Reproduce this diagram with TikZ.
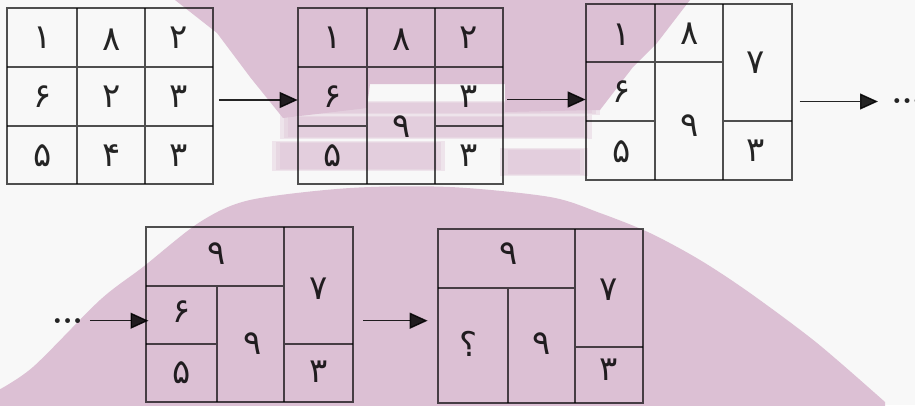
\documentclass[tikz,border=0pt]{standalone}
\usepackage{fontspec}
\usetikzlibrary{arrows.meta}
\TeXXeTstate=1
\newfontfamily\arabicfont[Script=Arabic]{DejaVu Sans}
\definecolor{wm}{HTML}{DCC0D4}
\definecolor{bgc}{HTML}{F8F8F8}
\newcommand\pd[1]{\beginR #1\endR}
\begin{document}
\begin{tikzpicture}[x=1pt,y=-1pt,
  gridline/.style={draw=black,draw opacity=0.68,line width=1.9pt},
  frame/.style={draw=black,draw opacity=0.68,line width=1.9pt,inner sep=0pt,outer sep=0pt},
  lbl/.style={inner sep=0pt,font=\arabicfont\fontsize{34}{34}\selectfont,text=black,text opacity=0.85},
  dotsnode/.style={inner sep=0pt,font=\bfseries\fontsize{34}{34}\selectfont,text=black,text opacity=0.85},
  arr/.style={line width=1.4pt,draw=black,draw opacity=0.85,fill opacity=0.85,-{Triangle[length=18pt,width=16pt]}},
  streak/.style={fill=wm,opacity=0.35}]
\useasboundingbox (0,0) rectangle (915,405);
\fill[bgc] (0,0) rectangle (915,405);
% watermark
\fill[wm] (175,0) -- (690,0) -- (657,43) -- (633,67) -- (600,110) -- (505,112) -- (505,84) -- (370,84) -- (367,108) -- (283,118) -- (250,77) -- (217,33) -- cycle;
\foreach \d in {0,4,8} {
  \fill[streak] (300+\d,101+\d/4) rectangle (600-\d,115-\d/4);
  \fill[streak] (280+\d,115+\d/4) rectangle (592-\d,139-\d/4);
  \fill[streak] (272+\d,141+\d/4) rectangle (445-\d,171-\d/4);
  \fill[streak] (500+\d,148+\d/4) rectangle (588-\d,176-\d/4);
}
\fill[wm] plot[smooth] coordinates {(-5,392) (33,367) (100,300) (143,267) (200,222) (250,200) (350,188) (450,187) (550,197) (600,213) (650,233) (700,260) (750,293) (817,343) (885,402)} -- (885,410) -- (-5,410) -- cycle;

% grid 1
\node[frame,minimum width=205.7pt,minimum height=175.7pt] (g1) at (110.15,96.15) {};
\draw[gridline] (77.3,8.3) -- (77.3,184) (145,8.3) -- (145,184) (7.3,66.7) -- (213,66.7) (7.3,126) -- (213,126);
\node[lbl] (c11) at (42.3,37.5) {\pd{۱}};
\node[lbl] (c12) at (111.2,40) {\pd{۸}};
\node[lbl] (c13) at (179,38) {\pd{۲}};
\node[lbl] (c21) at (42.3,97) {\pd{۶}};
\node[lbl] (c22) at (111.2,97) {\pd{۲}};
\node[lbl] (c23) at (179,97) {\pd{۳}};
\node[lbl] (c31) at (42.3,156) {\pd{۵}};
\node[lbl] (c32) at (111.2,156) {\pd{۴}};
\node[lbl] (c33) at (179,156) {\pd{۳}};

% grid 2
\node[frame,minimum width=205.3pt,minimum height=175.7pt] (g2) at (400.35,96.15) {};
\draw[gridline] (367.3,8.3) -- (367.3,184) (435,8.3) -- (435,184) (297.7,66.7) -- (503,66.7) (297.7,126) -- (367.3,126) (435,126) -- (503,126);
\node[lbl] (d11) at (332.5,37.5) {\pd{۱}};
\node[lbl] (d12) at (401.2,40) {\pd{۸}};
\node[lbl] (d13) at (469,38) {\pd{۲}};
\node[lbl] (d21) at (332.5,97) {\pd{۶}};
\node[lbl] (d22) at (401.2,126.5) {\pd{۹}};
\node[lbl] (d23) at (469,97) {\pd{۳}};
\node[lbl] (d31) at (332.5,156) {\pd{۵}};
\node[lbl] (d33) at (469,156) {\pd{۳}};

% grid 3
\node[frame,minimum width=206pt,minimum height=176pt] (g3) at (688.7,92) {};
\draw[gridline] (655,4) -- (655,180) (723.3,4) -- (723.3,180) (585.7,62) -- (723.3,62) (585.7,121) -- (655,121) (723.3,121) -- (791.7,121);
\node[lbl] (e11) at (621.7,35) {\pd{۱}};
\node[lbl] (e12) at (690,34) {\pd{۸}};
\node[lbl] (e13) at (756,63) {\pd{۷}};
\node[lbl] (e21) at (621.7,92) {\pd{۶}};
\node[lbl] (e22) at (690,126) {\pd{۹}};
\node[lbl] (e31) at (621.7,151.5) {\pd{۵}};
\node[lbl] (e33) at (756,151) {\pd{۳}};

% grid 4
\node[frame,minimum width=206.7pt,minimum height=175pt] (g4) at (249.35,314.2) {};
\draw[gridline] (284.3,226.7) -- (284.3,401.7) (216.7,286) -- (216.7,401.7) (146,286) -- (284.3,286) (146,344.3) -- (216.7,344.3) (284.3,344.3) -- (352.7,344.3);
\node[lbl] (f11) at (217,254) {\pd{۹}};
\node[lbl] (f13) at (318.3,289) {\pd{۷}};
\node[lbl] (f21) at (181.7,312) {\pd{۶}};
\node[lbl] (f22) at (253,344) {\pd{۹}};
\node[lbl] (f31) at (181.7,373) {\pd{۵}};
\node[lbl] (f33) at (318.3,372) {\pd{۳}};

% grid 5
\node[frame,minimum width=205.6pt,minimum height=173.7pt] (g5) at (540.5,316.15) {};
\draw[gridline] (575.3,229.3) -- (575.3,403) (507.7,288.3) -- (507.7,403) (437.7,288.3) -- (575.3,288.3) (575.3,346.7) -- (643.3,346.7);
\node[lbl] (h11) at (508.3,254) {\pd{۹}};
\node[lbl] (h13) at (608.3,290) {\pd{۷}};
\node[lbl] (h21) at (469,343.5) {\pd{؟}};
\node[lbl] (h22) at (542,344) {\pd{۹}};
\node[lbl] (h33) at (608.3,370) {\pd{۳}};

% dots
\node[dotsnode,anchor=west] (k1) at (891.4,101) {.\kern-0.5pt.\kern-0.5pt.};
\node[dotsnode,anchor=west] (k2) at (52,321) {.\kern-0.5pt.\kern-0.5pt.};

% arrows
\coordinate (r1) at (0,100);
\coordinate (r2) at (0,99.5);
\coordinate (r3) at (0,101.5);
\coordinate (r4) at (0,320.7);
\draw[arr] (g1.east |- r1) ++(6,0) -- (g2.west |- r1);
\draw[arr] (g2.east |- r2) ++(4,0) -- (g3.west |- r2);
\draw[arr,shorten <=8pt,shorten >=13.4pt] (g3.east |- r3) -- (k1.west |- r3);
\draw[arr,shorten <=6.5pt] (k2.east |- r4) -- ([xshift=2.5pt]g4.west |- r4);
\draw[arr,shorten <=10.5pt,shorten >=10pt] (g4.east |- r4) -- (g5.west |- r4);
\end{tikzpicture}
\end{document}
